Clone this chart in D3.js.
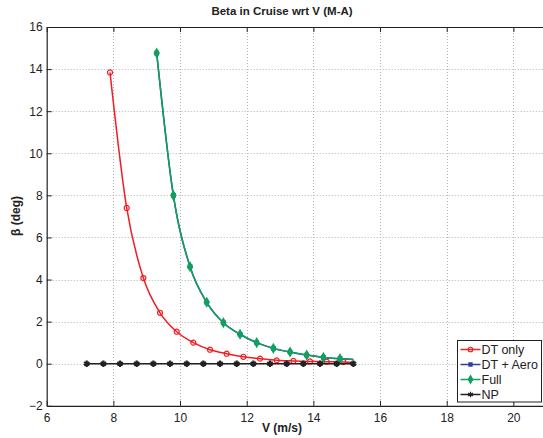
<!DOCTYPE html>
<html>
<head>
<meta charset="utf-8">
<script src="https://cdn.jsdelivr.net/npm/d3@7"></script>
<style>
  body { margin: 0; background: #fff; }
  text { font-family: "Liberation Sans", Arial, sans-serif; }
</style>
</head>
<body>
<svg id="chart" width="543" height="438"></svg>
<script>
/* chart values */
var xTicks = [6, 8, 10, 12, 14, 16, 18, 20];
var yTicks = [-2, 0, 2, 4, 6, 8, 10, 12, 14, 16];

var dtOnly_V    = [7.9, 8.4, 8.9, 9.4, 9.9, 10.4, 10.9, 11.4, 11.9, 12.4, 12.9, 13.4, 13.9, 14.4, 14.9, 15.25];
var dtOnly_Beta = [13.84, 7.4, 4.07, 2.42, 1.52, 1.0, 0.665, 0.475, 0.33, 0.24, 0.16, 0.13, 0.11, 0.095, 0.08, 0.06];

var dtAero_V    = [9.3, 9.8, 10.3, 10.8, 11.3, 11.8, 12.3, 12.8, 13.3, 13.8, 14.3, 14.8, 15.2];
var dtAero_Beta = [14.76, 8.0, 4.61, 2.92, 1.95, 1.4, 1.0, 0.73, 0.556, 0.41, 0.3, 0.24, 0.2];

var full_V    = [9.3, 9.8, 10.3, 10.8, 11.3, 11.8, 12.3, 12.8, 13.3, 13.8, 14.3, 14.8, 15.2];
var full_Beta = [14.76, 8.0, 4.61, 2.92, 1.95, 1.4, 1.0, 0.73, 0.556, 0.41, 0.3, 0.24, 0.2];

var np_V    = [7.2, 7.7, 8.2, 8.7, 9.2, 9.7, 10.2, 10.7, 11.2, 11.7, 12.2, 12.7, 13.2, 13.7, 14.2, 14.7, 15.2];
var np_Beta = [0, 0, 0, 0, 0, 0, 0, 0, 0, 0, 0, 0, 0, 0, 0, 0, 0];

/* the last point of the three curves carries no marker */
var series = [
	{ name: "DT only",   v: dtOnly_V, beta: dtOnly_Beta, colour: "#f21c24", symbol: d3.symbolCircle,   size: 20, fill: "none",    markLast: false },
	{ name: "DT + Aero", v: dtAero_V, beta: dtAero_Beta, colour: "#2c3e9e", symbol: d3.symbolSquare,   size: 12, fill: "#2c3e9e", markLast: false },
	{ name: "Full",      v: full_V,   beta: full_Beta,   colour: "#10a060", symbol: d3.symbolDiamond,  size: 22, fill: "#10a060", markLast: false },
	{ name: "NP",        v: np_V,     beta: np_Beta,     colour: "#222222", symbol: d3.symbolAsterisk, size: 28, fill: "none",    markLast: true }
];

var svg = d3.select("#chart");
var plot_Left = 46.7, plot_Top = 27, plot_Bottom = 405.8, plot_Right = 546.7;

var x = d3.scaleLinear().domain([6, 21]).range([plot_Left, plot_Right]);
var y = d3.scaleLinear().domain([-2, 16]).range([plot_Bottom, plot_Top]);

/* grid */
var grid = svg.append("g").attr("stroke", "#b4b4b4").attr("stroke-width", 1).attr("stroke-dasharray", "1,2");
grid.selectAll(".gx").data(xTicks.slice(1)).enter().append("line")
	.attr("x1", function(d){ return Math.round(x(d)) + 0.5; })
	.attr("x2", function(d){ return Math.round(x(d)) + 0.5; })
	.attr("y1", plot_Top).attr("y2", plot_Bottom);
grid.selectAll(".gy").data(yTicks.slice(1, -1)).enter().append("line")
	.attr("y1", function(d){ return Math.round(y(d)) + 0.5; })
	.attr("y2", function(d){ return Math.round(y(d)) + 0.5; })
	.attr("x1", plot_Left).attr("x2", plot_Right);

/* axes, ticks pointing inwards */
var xAxis = svg.append("g").attr("transform", "translate(0," + plot_Bottom + ")")
	.call(d3.axisBottom(x).tickValues(xTicks).tickSizeInner(-5).tickSizeOuter(0).tickPadding(8));
var xAxisTop = svg.append("g").attr("transform", "translate(0," + plot_Top + ")")
	.call(d3.axisTop(x).tickValues(xTicks).tickSizeInner(-5).tickSizeOuter(0).tickFormat(""));
var yAxis = svg.append("g").attr("transform", "translate(" + plot_Left + ",0)")
	.call(d3.axisLeft(y).tickValues(yTicks).tickSizeInner(-5).tickSizeOuter(0).tickPadding(4));

[xAxis, xAxisTop, yAxis].forEach(function(a){
	a.select(".domain").attr("stroke", "#222").attr("stroke-width", 1.2);
	a.selectAll(".tick line").attr("stroke", "#222");
	a.selectAll(".tick text").attr("font-size", 12).attr("fill", "#222")
		.attr("font-family", "'Liberation Sans', Arial, sans-serif");
});

/* lines */
var line = d3.line().curve(d3.curveMonotoneX)
	.x(function(d){ return x(d[0]); })
	.y(function(d){ return y(d[1]); });

series.forEach(function(s){
	var pts = d3.zip(s.v, s.beta);
	svg.append("path").attr("d", line(pts))
		.attr("fill", "none").attr("stroke", s.colour).attr("stroke-width", 1.5);

	var marks = s.markLast ? pts : pts.slice(0, -1);
	var sym = d3.symbol().type(s.symbol).size(s.size);
	svg.append("g").selectAll("path").data(marks).enter().append("path")
		.attr("transform", function(d){ return "translate(" + x(d[0]) + "," + y(d[1]) + ")"; })
		.attr("d", sym)
		.attr("fill", s.fill)
		.attr("stroke", s.colour)
		.attr("stroke-width", s.symbol === d3.symbolAsterisk ? 2.2 : 1.2);
});

/* legend */
var legend = svg.append("g").attr("transform", "translate(457.5,340.5)");
legend.append("rect").attr("width", 84).attr("height", 61.5)
	.attr("fill", "#fff").attr("stroke", "#222").attr("stroke-width", 1);

series.forEach(function(s, i){
	var row = legend.append("g").attr("transform", "translate(0," + (9 + i * 15) + ")");
	row.append("line").attr("x1", 3).attr("x2", 23)
		.attr("stroke", s.colour).attr("stroke-width", 1.5);
	row.append("path").attr("transform", "translate(13,0)")
		.attr("d", d3.symbol().type(s.symbol).size(s.size * 0.8))
		.attr("fill", s.fill).attr("stroke", s.colour).attr("stroke-width", 1.2);
	row.append("text").attr("x", 24).attr("y", 4.5)
		.attr("font-size", 12.5).attr("fill", "#222").text(s.name);
});

/* titles */
svg.append("text").attr("x", 282).attr("y", 15).attr("text-anchor", "middle")
	.attr("font-size", 11.5).attr("font-weight", "bold").attr("fill", "#222")
	.text("Beta in Cruise wrt V (M-A)");
svg.append("text").attr("x", 282).attr("y", 432).attr("text-anchor", "middle")
	.attr("font-size", 12).attr("font-weight", "bold").attr("fill", "#222")
	.text("V (m/s)");
svg.append("text").attr("transform", "translate(20,216) rotate(-90)").attr("text-anchor", "middle")
	.attr("font-size", 12).attr("font-weight", "bold").attr("fill", "#222")
	.text("β (deg)");
</script>
</body>
</html>
